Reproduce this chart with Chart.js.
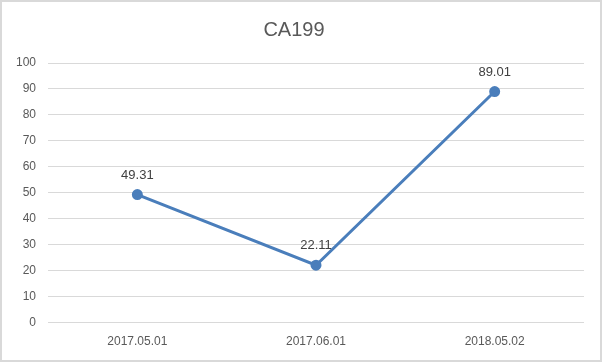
<!DOCTYPE html>
<html>
<head>
<meta charset="utf-8">
<script src="https://cdn.jsdelivr.net/npm/chart.js@4.4.1/dist/chart.umd.min.js"></script>
<style>
    html, body { margin: 0; padding: 0; background: #fff; }
    #wrap { position: relative; width: 598px; height: 358px; border: 2px solid #d9d9d9; }
</style>
</head>
<body>
<div id="wrap"><canvas id="myChart" width="598" height="358"></canvas></div>
<script>
const title = 'CA199';
const dates = ['2017.05.01', '2017.06.01', '2018.05.02'];
const values = [49.31, 22.11, 89.01];
const yMin = 0, yMax = 100, yStep = 10;

// draws the value above each point, like the office data labels
const pointLabels = {
    id: 'pointLabels',
    afterDatasetsDraw(chart) {
        let ctx = chart.ctx;
        let meta = chart.getDatasetMeta(0);
        ctx.save();
        ctx.font = '13px "Liberation Sans", Arial, sans-serif';
        ctx.fillStyle = '#404040';
        ctx.textAlign = 'center';
        ctx.textBaseline = 'bottom';
        meta.data.forEach((pt, i) => {
            ctx.fillText(values[i].toFixed(2), pt.x, pt.y - 13);
        });
        ctx.restore();
    }
};

var ctx = document.getElementById('myChart').getContext('2d');
new Chart(ctx, {
    type: 'line',
    data: {
        labels: dates,
        datasets: [{
            data: values,
            borderColor: '#4a7ebb',
            backgroundColor: '#4a7ebb',
            borderWidth: 3,
            pointRadius: 4,
            pointHoverRadius: 4,
            tension: 0
        }]
    },
    options: {
        responsive: false,
        animation: false,
        layout: { padding: { left: 2, right: 16, top: 10, bottom: 7 } },
        plugins: {
            legend: { display: false },
            tooltip: { enabled: false },
            title: {
                display: true,
                text: title,
                color: '#595959',
                font: { family: '"Liberation Sans", Arial, sans-serif', size: 20, weight: 'normal' },
                padding: { top: 6, bottom: 21 }
            }
        },
        scales: {
            x: {
                offset: true,
                grid: { display: false },
                border: { display: false },
                ticks: {
                    color: '#595959',
                    font: { family: '"Liberation Sans", Arial, sans-serif', size: 12 },
                    padding: 4,
                    maxRotation: 0
                }
            },
            y: {
                min: yMin,
                max: yMax,
                grid: { color: '#d9d9d9', lineWidth: 1, drawTicks: false },
                border: { display: false },
                ticks: {
                    stepSize: yStep,
                    color: '#595959',
                    font: { family: '"Liberation Sans", Arial, sans-serif', size: 12 },
                    padding: 12
                }
            }
        }
    },
    plugins: [pointLabels]
});
</script>
</body>
</html>
